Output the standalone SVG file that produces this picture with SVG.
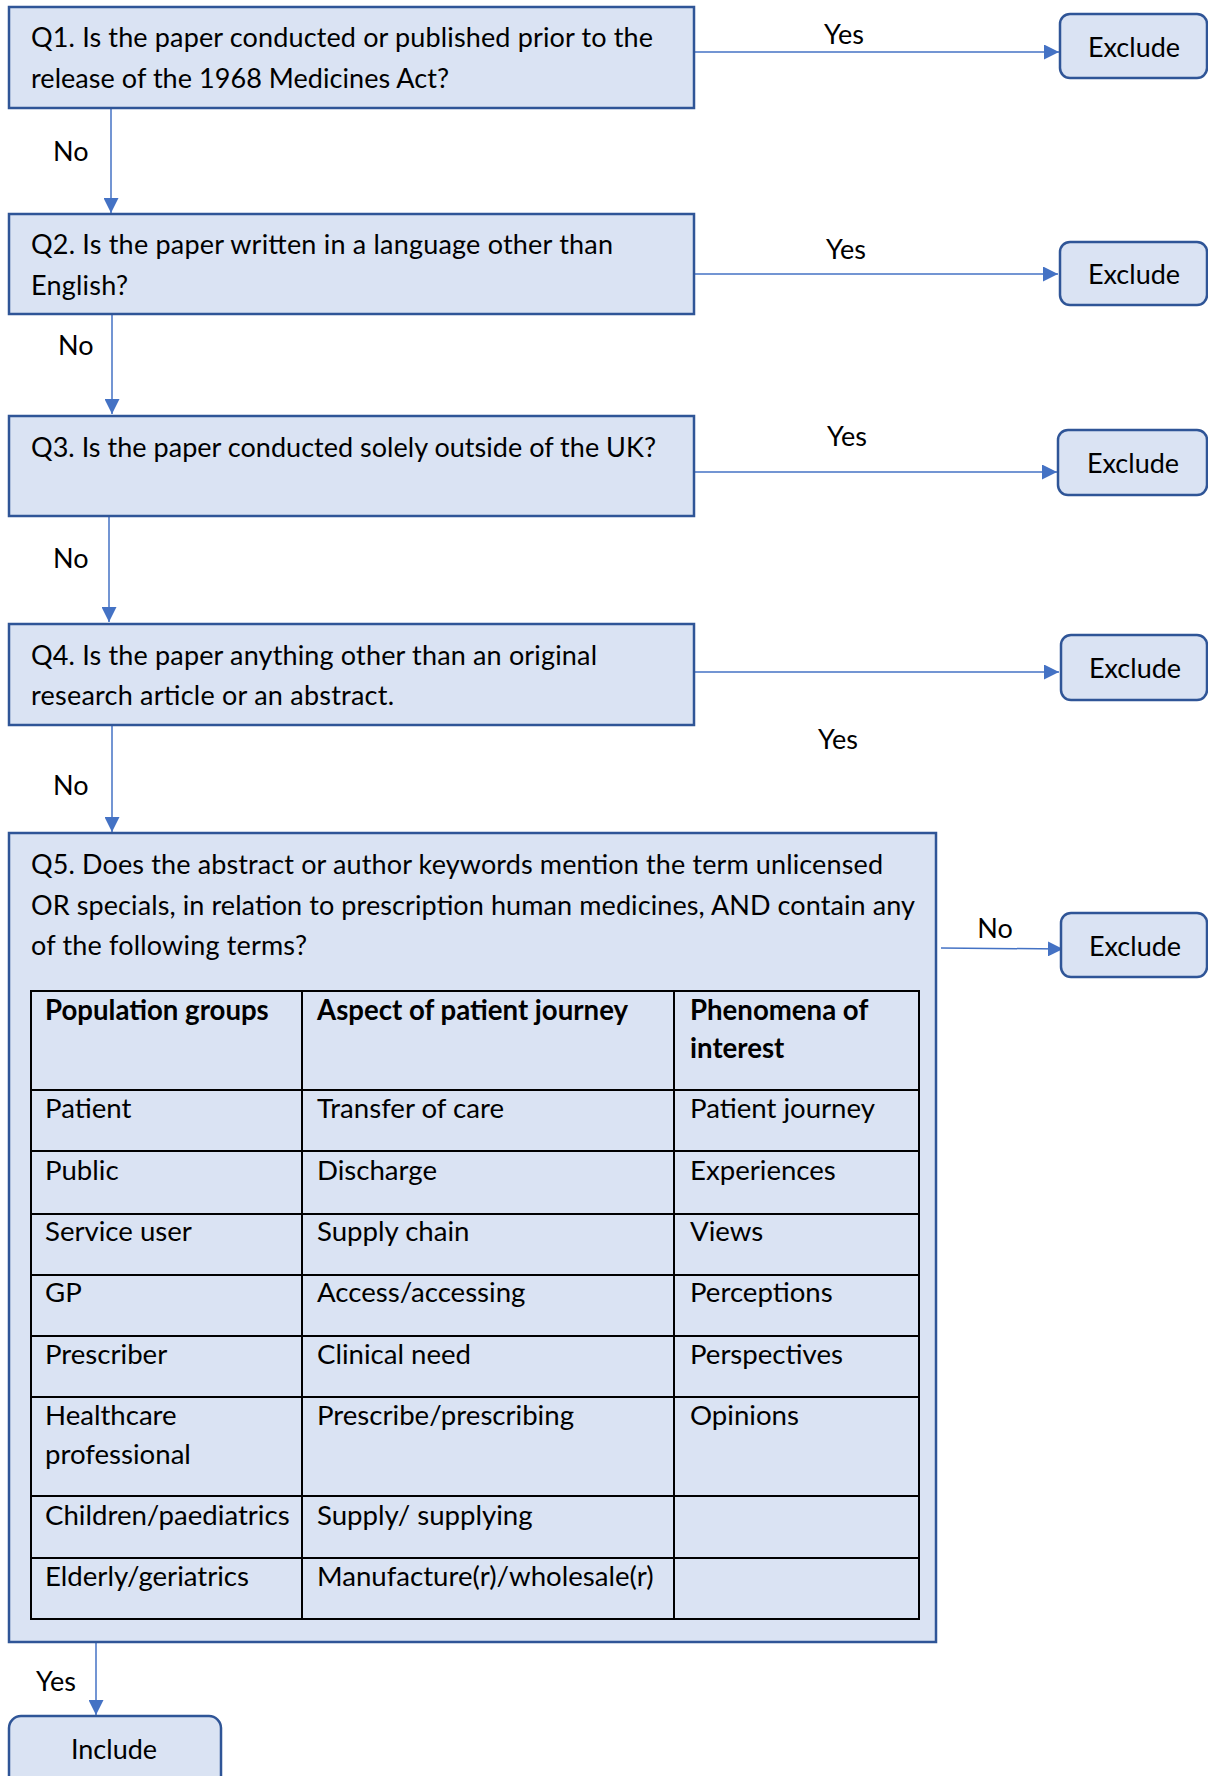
<svg xmlns="http://www.w3.org/2000/svg" width="1208" height="1776" viewBox="0 0 1208 1776">
<defs>
<marker id="arr" viewBox="0 0 10 10" refX="10" refY="5" markerWidth="15" markerHeight="15" markerUnits="userSpaceOnUse" orient="auto">
<path d="M0,0 L10,5 L0,10 z" fill="#4472c4"/>
</marker>
<style>
.box{fill:#dae3f3;stroke:#2f5597;stroke-width:2.5}
.ex{fill:#dae3f3;stroke:#2f5597;stroke-width:2.5}
.con{fill:none;stroke:#4472c4;stroke-width:1.5;marker-end:url(#arr)}
text{font-family:Lato,"Open Sans","Liberation Sans",sans-serif;font-size:27px;fill:#000}
#table text{font-size:27.6px}
.b{font-weight:bold}
.c{text-anchor:middle}
.tl{stroke:#000;stroke-width:2;fill:none}
</style>
</defs>
<rect width="1208" height="1776" fill="#fff"/>

<g id="connectors">
<path class="con" d="M694,52 H1059"/>
<path class="con" d="M111,108 V213"/>
<path class="con" d="M691,274 H1058"/>
<path class="con" d="M112,314 V414"/>
<path class="con" d="M691,472 H1057"/>
<path class="con" d="M109,516 V622"/>
<path class="con" d="M694,672 H1059"/>
<path class="con" d="M112,725 V832"/>
<path class="con" d="M941,948 L1063,949"/>
<path class="con" d="M96,1642 V1715"/>
<text class="c" x="844" y="44">Yes</text>
<text x="53" y="161">No</text>
<text class="c" x="846" y="259">Yes</text>
<text x="58" y="355">No</text>
<text class="c" x="847" y="446">Yes</text>
<text x="53" y="568">No</text>
<text class="c" x="838" y="749">Yes</text>
<text x="53" y="795">No</text>
<text class="c" x="995" y="938">No</text>
<text x="36" y="1691">Yes</text>
</g>

<g id="q1">
<rect class="box" x="9" y="7" width="685" height="101"/>
<text x="31" y="47" textLength="622">Q1. Is the paper conducted or published prior to the</text>
<text x="31" y="88" textLength="418">release of the 1968 Medicines Act?</text>
</g>
<g id="ex1">
<rect class="ex" x="1060" y="14" width="147" height="64" rx="10"/>
<text class="c" x="1134" y="57">Exclude</text>
</g>

<g id="q2">
<rect class="box" x="9" y="214" width="685" height="100"/>
<text x="31" y="254" textLength="582">Q2. Is the paper written in a language other than</text>
<text x="31" y="295" textLength="97">English?</text>
</g>
<g id="ex2">
<rect class="ex" x="1060" y="242" width="147" height="63" rx="10"/>
<text class="c" x="1134" y="284">Exclude</text>
</g>

<g id="q3">
<rect class="box" x="9" y="416" width="685" height="100"/>
<text x="31" y="457" textLength="625">Q3. Is the paper conducted solely outside of the UK?</text>
</g>
<g id="ex3">
<rect class="ex" x="1058" y="430" width="149" height="65" rx="10"/>
<text class="c" x="1133" y="473">Exclude</text>
</g>

<g id="q4">
<rect class="box" x="9" y="624" width="685" height="101"/>
<text x="31" y="665" textLength="566">Q4. Is the paper anything other than an original</text>
<text x="31" y="705" textLength="363">research article or an abstract.</text>
</g>
<g id="ex4">
<rect class="ex" x="1061" y="635" width="146" height="65" rx="10"/>
<text class="c" x="1135" y="678">Exclude</text>
</g>

<g id="q5">
<rect class="box" x="9" y="833" width="927" height="809"/>
<text x="31" y="874" textLength="852">Q5. Does the abstract or author keywords mention the term unlicensed</text>
<text x="31" y="915" textLength="884">OR specials, in relation to prescription human medicines, AND contain any</text>
<text x="31" y="955" textLength="276">of the following terms?</text>
<g id="table">
<rect class="tl" x="31" y="991" width="888" height="628"/>
<path class="tl" d="M302,991 V1619 M674,991 V1619 M31,1090 H919 M31,1151 H919 M31,1214 H919 M31,1275 H919 M31,1336 H919 M31,1397 H919 M31,1496 H919 M31,1558 H919"/>
<text class="b" x="45" y="1020">Population groups</text>
<text class="b" x="317" y="1020">Aspect of patient journey</text>
<text class="b" x="690" y="1020">Phenomena of</text>
<text class="b" x="690" y="1058">interest</text>
<text x="45" y="1118">Patient</text><text x="317" y="1118">Transfer of care</text><text x="690" y="1118">Patient journey</text>
<text x="45" y="1180">Public</text><text x="317" y="1180">Discharge</text><text x="690" y="1180">Experiences</text>
<text x="45" y="1241">Service user</text><text x="317" y="1241">Supply chain</text><text x="690" y="1241">Views</text>
<text x="45" y="1302">GP</text><text x="317" y="1302">Access/accessing</text><text x="690" y="1302">Perceptions</text>
<text x="45" y="1364">Prescriber</text><text x="317" y="1364">Clinical need</text><text x="690" y="1364">Perspectives</text>
<text x="45" y="1425">Healthcare</text><text x="45" y="1464">professional</text><text x="317" y="1425">Prescribe/prescribing</text><text x="690" y="1425">Opinions</text>
<text x="45" y="1525">Children/paediatrics</text><text x="317" y="1525">Supply/ supplying</text>
<text x="45" y="1586">Elderly/geriatrics</text><text x="317" y="1586">Manufacture(r)/wholesale(r)</text>
</g>
</g>
<g id="ex5">
<rect class="ex" x="1061" y="913" width="146" height="64" rx="10"/>
<text class="c" x="1135" y="956">Exclude</text>
</g>

<g id="include">
<rect class="ex" x="9" y="1716" width="212" height="80" rx="12"/>
<text class="c" x="114" y="1759">Include</text>
</g>
</svg>
